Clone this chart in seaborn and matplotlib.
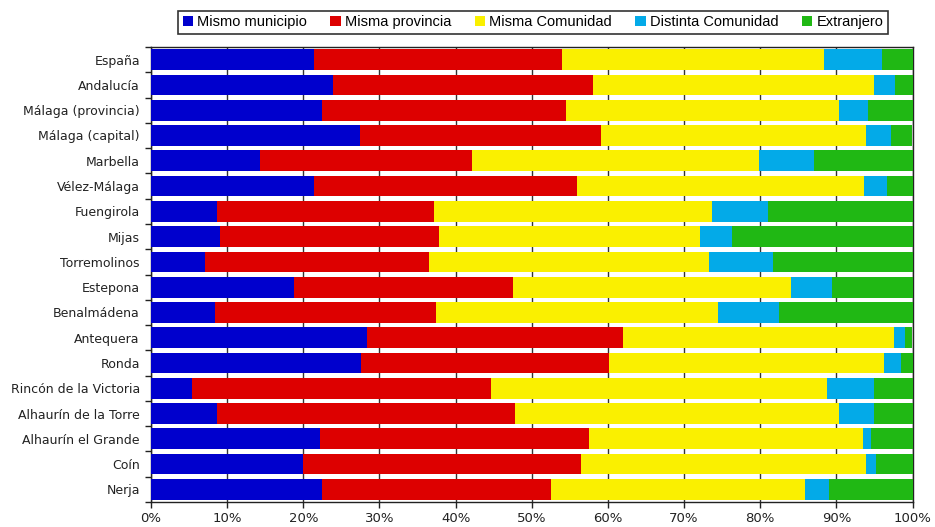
import numpy as np
import pandas as pd
import matplotlib.pyplot as plt
import seaborn as sns
from matplotlib.patches import Patch
from matplotlib.ticker import PercentFormatter

# Data (% of residents by place of origin)
municipios = ["España", "Andalucía", "Málaga (provincia)", "Málaga (capital)", "Marbella",
              "Vélez-Málaga", "Fuengirola", "Mijas", "Torremolinos", "Estepona",
              "Benalmádena", "Antequera", "Ronda", "Rincón de la Victoria",
              "Alhaurín de la Torre", "Alhaurín el Grande", "Coín", "Nerja"]
mismo_municipio = [21.4, 23.9, 22.4, 27.4, 14.3, 21.4, 8.7, 9.1, 7.1, 18.8, 8.4, 28.4, 27.6, 5.4, 8.7, 22.2, 20.0, 22.4]
misma_provincia = [32.6, 34.1, 32.1, 31.7, 27.8, 34.5, 28.5, 28.7, 29.4, 28.7, 29.0, 33.6, 32.5, 39.2, 39.1, 35.3, 36.5, 30.1]
misma_comunidad = [34.4, 37.0, 35.9, 34.8, 37.7, 37.7, 36.5, 34.3, 36.8, 36.5, 37.0, 35.5, 36.1, 44.2, 42.6, 36.0, 37.4, 33.4]
distinta_comunidad = [7.6, 2.7, 3.7, 3.3, 7.2, 3.0, 7.3, 4.2, 8.4, 5.4, 8.1, 1.5, 2.3, 6.1, 4.6, 1.1, 1.3, 3.1]
extranjero = [4.0, 2.3, 5.9, 2.7, 13.0, 3.4, 19.0, 23.7, 18.3, 10.6, 17.5, 0.9, 1.5, 5.1, 5.0, 5.4, 4.8, 11.0]

series = ["Mismo municipio", "Misma provincia", "Misma Comunidad", "Distinta Comunidad", "Extranjero"]
colors = ["#0000CD", "#DD0000", "#FAF000", "#03AAE8", "#20B814"]

df = pd.DataFrame({
    "Municipio": municipios,
    "Mismo municipio": mismo_municipio,
    "Misma provincia": misma_provincia,
    "Misma Comunidad": misma_comunidad,
    "Distinta Comunidad": distinta_comunidad,
    "Extranjero": extranjero,
})

# cumulative sums for stacking
cum = df[series].cumsum(axis=1)
for s in series:
    df["cum_" + s] = cum[s]

fig = plt.figure(figsize=(9.35, 5.27), dpi=100)
ax = fig.add_axes([0.1615, 0.0474, 0.8145, 0.8634])

# draw from the outermost segment inward so the stack shows
for s, c in reversed(list(zip(series, colors))):
    sns.barplot(data=df, x="cum_" + s, y="Municipio", orient="h", color=c,
                saturation=1, width=0.82, ax=ax, zorder=3)

ax.set_xlim(0, 100)
ax.set_ylim(len(municipios) - 0.5, -0.5)
ax.set_xticks(np.arange(0, 101, 10))
ax.xaxis.set_major_formatter(PercentFormatter(decimals=0))
ax.set_xlabel("")
ax.set_ylabel("")

# category separators as ticks on the y axis (Excel style)
ax.set_yticks(np.arange(len(municipios)))
ax.set_yticks(np.arange(-0.5, len(municipios), 1), minor=True)
ax.tick_params(axis="y", which="major", length=0, pad=8, labelsize=9, labelcolor="#222222")
ax.tick_params(axis="y", which="minor", length=4, width=1, color="#222222")
ax.tick_params(axis="x", which="major", length=4, width=1, color="#222222",
               labelsize=9.5, labelcolor="#222222")

ax.grid(axis="x", color="#333333", linewidth=1, zorder=0)
ax.set_axisbelow(True)
for sp in ax.spines.values():
    sp.set_color("#222222")
    sp.set_linewidth(1)

handles = [Patch(facecolor=c, edgecolor="none", label=s) for s, c in zip(series, colors)]
leg = fig.legend(handles=handles, loc="center", bbox_to_anchor=(0.570, 0.958), ncol=5,
                 frameon=True, fancybox=False, edgecolor="black", handlelength=0.7,
                 handleheight=0.7, handletextpad=0.3, columnspacing=1.6, borderpad=0.3,
                 prop={"family": "Liberation Sans", "size": 10.5})
leg.get_frame().set_linewidth(1.2)

fig.savefig("out.png", dpi=100)
